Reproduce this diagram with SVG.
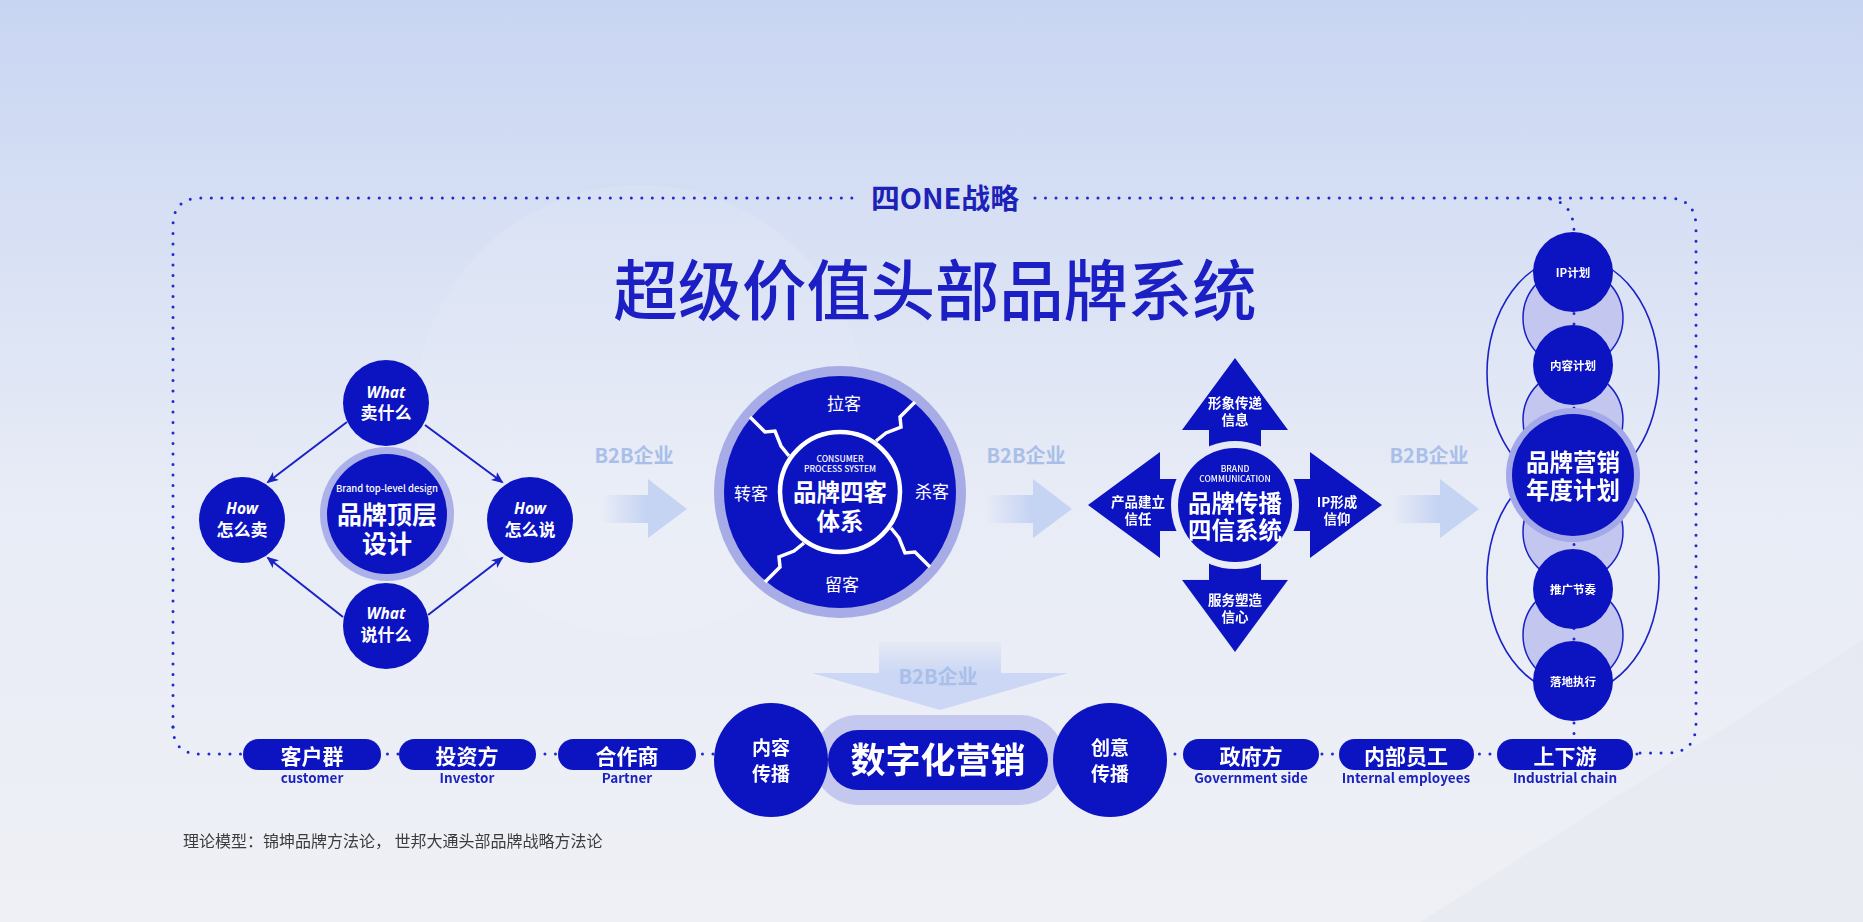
<svg xmlns="http://www.w3.org/2000/svg" width="1863" height="922" viewBox="0 0 1863 922">
<defs>
<linearGradient id="bg" x1="0" y1="0" x2="0" y2="1">
<stop offset="0" stop-color="#c8d5f2"/>
<stop offset="0.3" stop-color="#dae2f4"/>
<stop offset="0.55" stop-color="#e8ecf6"/>
<stop offset="1" stop-color="#eef0f5"/>
</linearGradient>
<linearGradient id="shaft" x1="0" y1="0" x2="1" y2="0">
<stop offset="0" stop-color="#c4d2f3" stop-opacity="0"/>
<stop offset="1" stop-color="#c4d2f3"/>
</linearGradient>
<linearGradient id="vshaft" x1="0" y1="0" x2="0" y2="1">
<stop offset="0" stop-color="#cbd7f4" stop-opacity="0.15"/>
<stop offset="1" stop-color="#cbd7f4"/>
</linearGradient>
<marker id="ah" markerUnits="userSpaceOnUse" markerWidth="14" markerHeight="12" refX="10" refY="5" orient="auto">
<path d="M0,0 L12,5 L0,10 L3,5 Z" fill="#1a22c6"/>
</marker>
<mask id="m4x">
<rect width="1863" height="922" fill="#fff"/>
<circle cx="1235" cy="505" r="64" fill="#000"/>
</mask>
<path id="sep" d="M750,417 L765,432 L775,431 L781,446 L789,456"/>
<path id="arr" d="M1235,358 L1288,430 L1261,430 L1261,470 L1209,470 L1209,430 L1182,430 Z"/>
</defs>
<style>
.d{fill:#0c13c1}
.t{font-family:"Noto Sans CJK SC","Noto Sans",sans-serif;fill:#fff;text-anchor:middle}
.b{font-weight:700}
.en{font-family:"Noto Sans","Noto Sans CJK SC",sans-serif;font-style:italic;font-weight:700;font-size:15.5px}
.s17{font-size:17px}
.dot{fill:none;stroke:#1f2ad0;stroke-width:3;stroke-linecap:round;stroke-dasharray:0 10.5}
.ln{stroke:#1a22c6;stroke-width:2;fill:none}
.b2b{fill:#a9bfe9;font-size:20px;font-weight:700}
.ah{fill:#c6d4f3}
.sub{fill:#1a22c0;font-size:13.5px;font-weight:700}
.pt{font-size:21px;font-weight:700}
.sep{fill:none;stroke:#fff;stroke-width:3.5;stroke-linejoin:miter}
.lc{fill:#c3c6ee;stroke:#1a22c6;stroke-width:1.5}
.el{fill:none;stroke:#1a22c6;stroke-width:1.6}
.sm{font-size:11.5px;font-weight:700}
.tiny{font-size:8.5px;font-weight:500}
.al{font-size:13.5px;font-weight:700}
.big{font-size:23.5px;font-weight:700}
</style>

<!-- background -->
<rect width="1863" height="922" fill="url(#bg)"/>
<circle cx="640" cy="410" r="225" fill="#ffffff" opacity="0.1"/>
<polygon points="1420,922 1863,640 1863,922" fill="#dde2eb" opacity="0.3"/>

<!-- titles -->
<text class="t" x="935" y="315" font-size="66" style="fill:#1c20c4;font-weight:500" textLength="643" lengthAdjust="spacingAndGlyphs">超级价值头部品牌系统</text>
<text class="t b" x="945" y="209" font-size="28" style="fill:#1c22b8" textLength="148" lengthAdjust="spacingAndGlyphs">四ONE战略</text>

<!-- connectors -->
<g id="connectors">
<path class="dot" d="M173,727 L173,226 Q173,198 201,198 L860,198"/>
<path class="dot" d="M1035,198 L1667,198 Q1696,198 1696,227 L1696,724 Q1696,753 1667,753 L1640,753"/>
<path class="dot" d="M173,727 Q173,754 200,754 L1640,754"/>
<line class="ln" x1="347" y1="422" x2="268" y2="482" marker-end="url(#ah)"/>
<line class="ln" x1="425" y1="425" x2="502" y2="482" marker-end="url(#ah)"/>
<line class="ln" x1="343" y1="617" x2="268" y2="558" marker-end="url(#ah)"/>
<line class="ln" x1="428" y1="615" x2="502" y2="558" marker-end="url(#ah)"/>
<g id="b2b-1">
<rect x="600" y="495" width="48" height="28" fill="url(#shaft)"/>
<polygon class="ah" points="648,479 687,509 648,538"/>
<text class="t b2b" x="634" y="463" style="fill:#a9bfe9">B2B企业</text>
</g>
<g id="b2b-2">
<rect x="985" y="495" width="48" height="28" fill="url(#shaft)"/>
<polygon class="ah" points="1033,479 1072,509 1033,538"/>
<text class="t b2b" x="1026" y="463" style="fill:#a9bfe9">B2B企业</text>
</g>
<g id="b2b-3">
<rect x="1392" y="495" width="48" height="28" fill="url(#shaft)"/>
<polygon class="ah" points="1440,479 1479,509 1440,538"/>
<text class="t b2b" x="1429" y="463" style="fill:#a9bfe9">B2B企业</text>
</g>
<g id="b2b-down">
<rect x="879" y="642" width="122" height="31" fill="url(#vshaft)"/>
<polygon class="ah" points="812,673 1068,673 940,710" style="fill:#cbd7f4"/>
<text class="t b2b" x="938" y="684" style="fill:#a9bfe9">B2B企业</text>
</g>
</g>

<!-- left group -->
<g id="node-top-design">
<circle cx="387" cy="514" r="67" fill="#adb1ea"/>
<circle class="d" cx="387" cy="514" r="60"/>
<text class="t" x="387" y="492" font-size="9.5" font-weight="500">Brand top-level design</text>
<text class="t b" x="387" y="524" font-size="25">品牌顶层</text>
<text class="t b" x="387" y="553" font-size="25">设计</text>
</g>
<g id="node-what-sell">
<circle class="d" cx="386" cy="403" r="43"/>
<text class="t en" x="386" y="398">What</text>
<text class="t b s17" x="386" y="419">卖什么</text>
</g>
<g id="node-how-sell">
<circle class="d" cx="242" cy="520" r="43"/>
<text class="t en" x="242" y="514">How</text>
<text class="t b s17" x="242" y="536">怎么卖</text>
</g>
<g id="node-how-say">
<circle class="d" cx="530" cy="520" r="43"/>
<text class="t en" x="530" y="514">How</text>
<text class="t b s17" x="530" y="536">怎么说</text>
</g>
<g id="node-what-say">
<circle class="d" cx="386" cy="626" r="43"/>
<text class="t en" x="386" y="619">What</text>
<text class="t b s17" x="386" y="641">说什么</text>
</g>

<!-- four customers -->
<g id="node-four-customer">
<circle cx="840" cy="492" r="126" fill="#a7abe6"/>
<circle class="d" cx="840" cy="492" r="116"/>
<use href="#sep" class="sep"/>
<use href="#sep" class="sep" transform="rotate(90 840 492)"/>
<use href="#sep" class="sep" transform="rotate(180 840 492)"/>
<use href="#sep" class="sep" transform="rotate(270 840 492)"/>
<circle cx="840" cy="492" r="60" fill="none" stroke="#fff" stroke-width="4.5"/>
<text class="t s17" x="844" y="410">拉客</text>
<text class="t s17" x="751" y="500">转客</text>
<text class="t s17" x="932" y="498">杀客</text>
<text class="t s17" x="842" y="591">留客</text>
<text class="t tiny" x="840" y="462">CONSUMER</text>
<text class="t tiny" x="840" y="472">PROCESS SYSTEM</text>
<text class="t big" x="840" y="501">品牌四客</text>
<text class="t big" x="840" y="530">体系</text>
</g>

<!-- four trust -->
<g id="node-four-trust">
<g mask="url(#m4x)">
<use href="#arr" class="d"/>
<use href="#arr" class="d" transform="rotate(90 1235 505)"/>
<use href="#arr" class="d" transform="rotate(180 1235 505)"/>
<use href="#arr" class="d" transform="rotate(270 1235 505)"/>
</g>
<circle class="d" cx="1235" cy="505" r="57"/>
<text class="t tiny" x="1235" y="472">BRAND</text>
<text class="t tiny" x="1235" y="482">COMMUNICATION</text>
<text class="t big" x="1235" y="512">品牌传播</text>
<text class="t big" x="1235" y="539">四信系统</text>
<text class="t al" x="1235" y="408">形象传递</text>
<text class="t al" x="1235" y="425">信息</text>
<text class="t al" x="1138" y="507">产品建立</text>
<text class="t al" x="1138" y="524">信任</text>
<text class="t al" x="1337" y="507">IP形成</text>
<text class="t al" x="1337" y="524">信仰</text>
<text class="t al" x="1235" y="605">服务塑造</text>
<text class="t al" x="1235" y="622">信心</text>
</g>

<!-- annual plan column -->
<g id="node-annual-plan">
<ellipse class="el" cx="1573" cy="373" rx="86" ry="116"/>
<ellipse class="el" cx="1573" cy="578" rx="86" ry="116"/>
<circle class="lc" cx="1573" cy="318" r="50"/>
<circle class="lc" cx="1573" cy="420" r="50"/>
<circle class="lc" cx="1573" cy="532" r="50"/>
<circle class="lc" cx="1573" cy="635" r="50"/>
<path class="dot" d="M1540,198 Q1574,198 1574,232 L1574,739"/>
<g id="node-ip-plan">
<circle class="d" cx="1573" cy="272" r="40"/>
<text class="t sm" x="1573" y="277">IP计划</text>
</g>
<g id="node-content-plan">
<circle class="d" cx="1573" cy="365" r="40"/>
<text class="t sm" x="1573" y="370">内容计划</text>
</g>
<g id="node-brand-annual">
<circle cx="1573" cy="475" r="67" fill="#a3a8e8"/>
<circle class="d" cx="1573" cy="475" r="61"/>
<text class="t big" x="1573" y="471">品牌营销</text>
<text class="t big" x="1573" y="499">年度计划</text>
</g>
<g id="node-promo">
<circle class="d" cx="1573" cy="589" r="40"/>
<text class="t sm" x="1573" y="594">推广节奏</text>
</g>
<g id="node-exec">
<circle class="d" cx="1573" cy="681" r="40"/>
<text class="t sm" x="1573" y="686">落地执行</text>
</g>
</g>

<!-- digital marketing -->
<g id="node-digital">
<rect x="813" y="715" width="252" height="90" rx="45" fill="#c4c8ee"/>
<rect class="d" x="828" y="730" width="220" height="60" rx="30"/>
<text class="t b" x="938" y="773" font-size="35">数字化营销</text>
</g>
<g id="node-content-spread">
<circle class="d" cx="771" cy="760" r="57"/>
<text class="t b" x="771" y="755" font-size="19">内容</text>
<text class="t b" x="771" y="781" font-size="19">传播</text>
</g>
<g id="node-creative-spread">
<circle class="d" cx="1110" cy="760" r="57"/>
<text class="t b" x="1110" y="755" font-size="19">创意</text>
<text class="t b" x="1110" y="781" font-size="19">传播</text>
</g>

<!-- stakeholder pills -->
<g id="node-customer">
<rect class="d" x="243" y="739" width="138" height="31" rx="15.5"/>
<text class="t pt" x="312" y="764">客户群</text>
<text class="t sub" x="312" y="783" style="fill:#1a22c0">customer</text>
</g>
<g id="node-investor">
<rect class="d" x="399" y="739" width="137" height="31" rx="15.5"/>
<text class="t pt" x="467" y="764">投资方</text>
<text class="t sub" x="467" y="783" style="fill:#1a22c0">Investor</text>
</g>
<g id="node-partner">
<rect class="d" x="558" y="739" width="138" height="31" rx="15.5"/>
<text class="t pt" x="627" y="764">合作商</text>
<text class="t sub" x="627" y="783" style="fill:#1a22c0">Partner</text>
</g>
<g id="node-government">
<rect class="d" x="1183" y="739" width="136" height="31" rx="15.5"/>
<text class="t pt" x="1251" y="764">政府方</text>
<text class="t sub" x="1251" y="783" style="fill:#1a22c0">Government side</text>
</g>
<g id="node-employees">
<rect class="d" x="1339" y="739" width="135" height="31" rx="15.5"/>
<text class="t pt" x="1406" y="764">内部员工</text>
<text class="t sub" x="1406" y="783" style="fill:#1a22c0">Internal employees</text>
</g>
<g id="node-chain">
<rect class="d" x="1497" y="739" width="136" height="31" rx="15.5"/>
<text class="t pt" x="1565" y="764">上下游</text>
<text class="t sub" x="1565" y="783" style="fill:#1a22c0">Industrial chain</text>
</g>

<text x="183" y="847" font-family="'Noto Sans CJK SC','Noto Sans',sans-serif" font-size="16" fill="#3c3c3c">理论模型：锦坤品牌方法论， 世邦大通头部品牌战略方法论</text>
</svg>
